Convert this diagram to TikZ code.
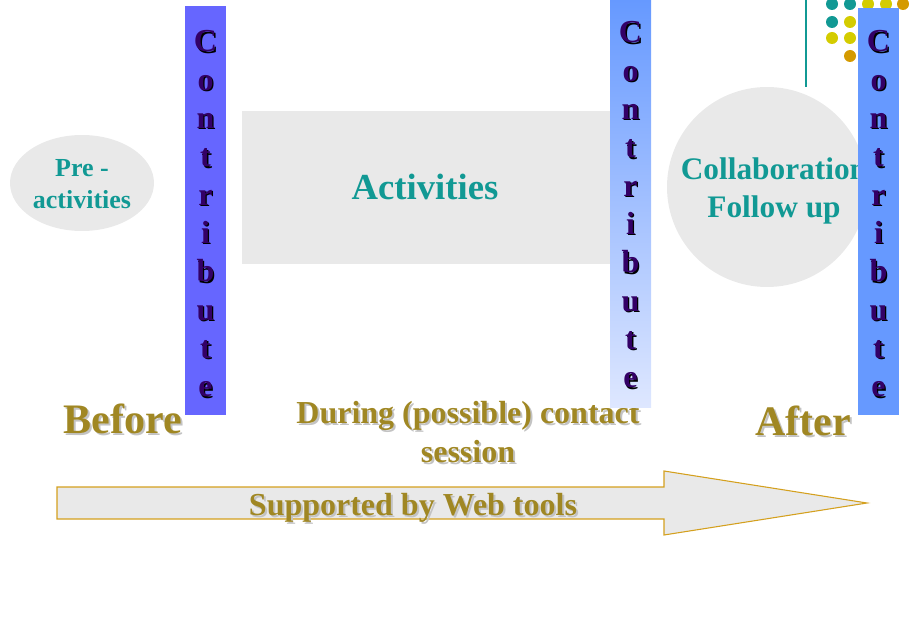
\documentclass[tikz,border=0pt]{standalone}
\usepackage{fontspec}
\setmainfont{Liberation Serif}

\definecolor{barblue}{RGB}{102,102,255}
\definecolor{skyblue}{RGB}{102,153,255}
\definecolor{paleblue}{RGB}{222,231,255}
\definecolor{panelgray}{RGB}{233,233,233}
\definecolor{tealtext}{RGB}{17,153,148}
\definecolor{goldtext}{RGB}{160,135,35}
\definecolor{arrowgold}{RGB}{212,160,30}
\definecolor{dotyellow}{RGB}{212,204,0}
\definecolor{dotorange}{RGB}{212,154,0}
\definecolor{letterpurple}{RGB}{51,0,102}
\definecolor{shadowgray}{RGB}{195,195,195}

% text with a dropped copy behind it
\newcommand{\shadowed}[3][1.5pt]{\makebox[0pt][l]{\kern#1\raisebox{-#1}{\textcolor{#2}{#3}}}#3}

\begin{document}
\begin{tikzpicture}[x=0.75pt,y=-0.75pt,
        stage/.style={text=tealtext, align=center, inner sep=0pt},
        phase/.style={text=goldtext, align=center, inner sep=0pt},
        letter/.style={text=letterpurple, anchor=base, inner sep=0pt,
            font=\bfseries\fontsize{24}{29}\selectfont}
        ]
    \useasboundingbox (0,0) rectangle (921,627);

    % Panels:
    \fill[panelgray] (82,183) ellipse [x radius=72, y radius=48];
    \fill[panelgray] (242,111) rectangle (612,264);
    \fill[panelgray] (767,187) circle [radius=100];

    % corner dots
    \draw[tealtext, line width=0.8pt] (806,0) -- (806,87);
    \foreach \x/\y/\c in {832/4/tealtext, 850/4/tealtext, 868/4/dotyellow,
                          886/4/dotyellow, 903/4/dotorange,
                          832/22/tealtext, 850/22/dotyellow,
                          832/38/dotyellow, 850/38/dotyellow,
                          850/56/dotorange}
        \fill[\c] (\x,\y) circle [radius=6];

    % big arrow
    \draw[arrowgold, fill=panelgray, line width=0.8pt]
        (57,487) -- (664,487) -- (664,471) -- (867,503)
        -- (664,535) -- (664,519) -- (57,519) -- cycle;

    \node[stage, font=\bfseries\fontsize{19.5}{24}\selectfont]
        (pre) at (82,184) {Pre -\\activities};
    \node[stage, anchor=base, font=\bfseries\fontsize{27.5}{33}\selectfont]
        (activities) at (425,200) {Activities};
    \node[stage, font=\bfseries\fontsize{23.5}{28.5}\selectfont]
        (followup) at (774,191) {Collaboration\\Follow up};

    \node[phase, anchor=base, font=\bfseries\fontsize{31.5}{38}\selectfont]
        (before) at (123,433) {\shadowed{shadowgray}{Before}};
    \node[phase, font=\bfseries\fontsize{24}{29}\selectfont]
        (during) at (468,433) {\shadowed{shadowgray}{During (possible) contact}\\
                               \shadowed{shadowgray}{session}};
    \node[phase, anchor=base, font=\bfseries\fontsize{31.5}{38}\selectfont]
        (after) at (803,435) {\shadowed{shadowgray}{After}};
    \node[phase, anchor=base, font=\bfseries\fontsize{24}{29}\selectfont]
        (support) at (413,515) {\shadowed{shadowgray}{Supported by Web tools}};

    % Contribute bars:
    \fill[barblue] (185,6) rectangle (226,415);
    \shade[top color=skyblue, bottom color=paleblue] (610,0) rectangle (651,407);
    \fill[skyblue] (858,8) rectangle (899,415);

    \foreach \bx/\by/\bar in {205.5/52/left, 630.5/43/mid, 878.5/52/right}
        \foreach \l [count=\i from 0] in {C,o,n,t,r,i,b,u,t,e}
            \node[letter] (\bar-\i) at (\bx,\by+38.3*\i) {\shadowed[1pt]{black}{\l}};
\end{tikzpicture}
\end{document}
